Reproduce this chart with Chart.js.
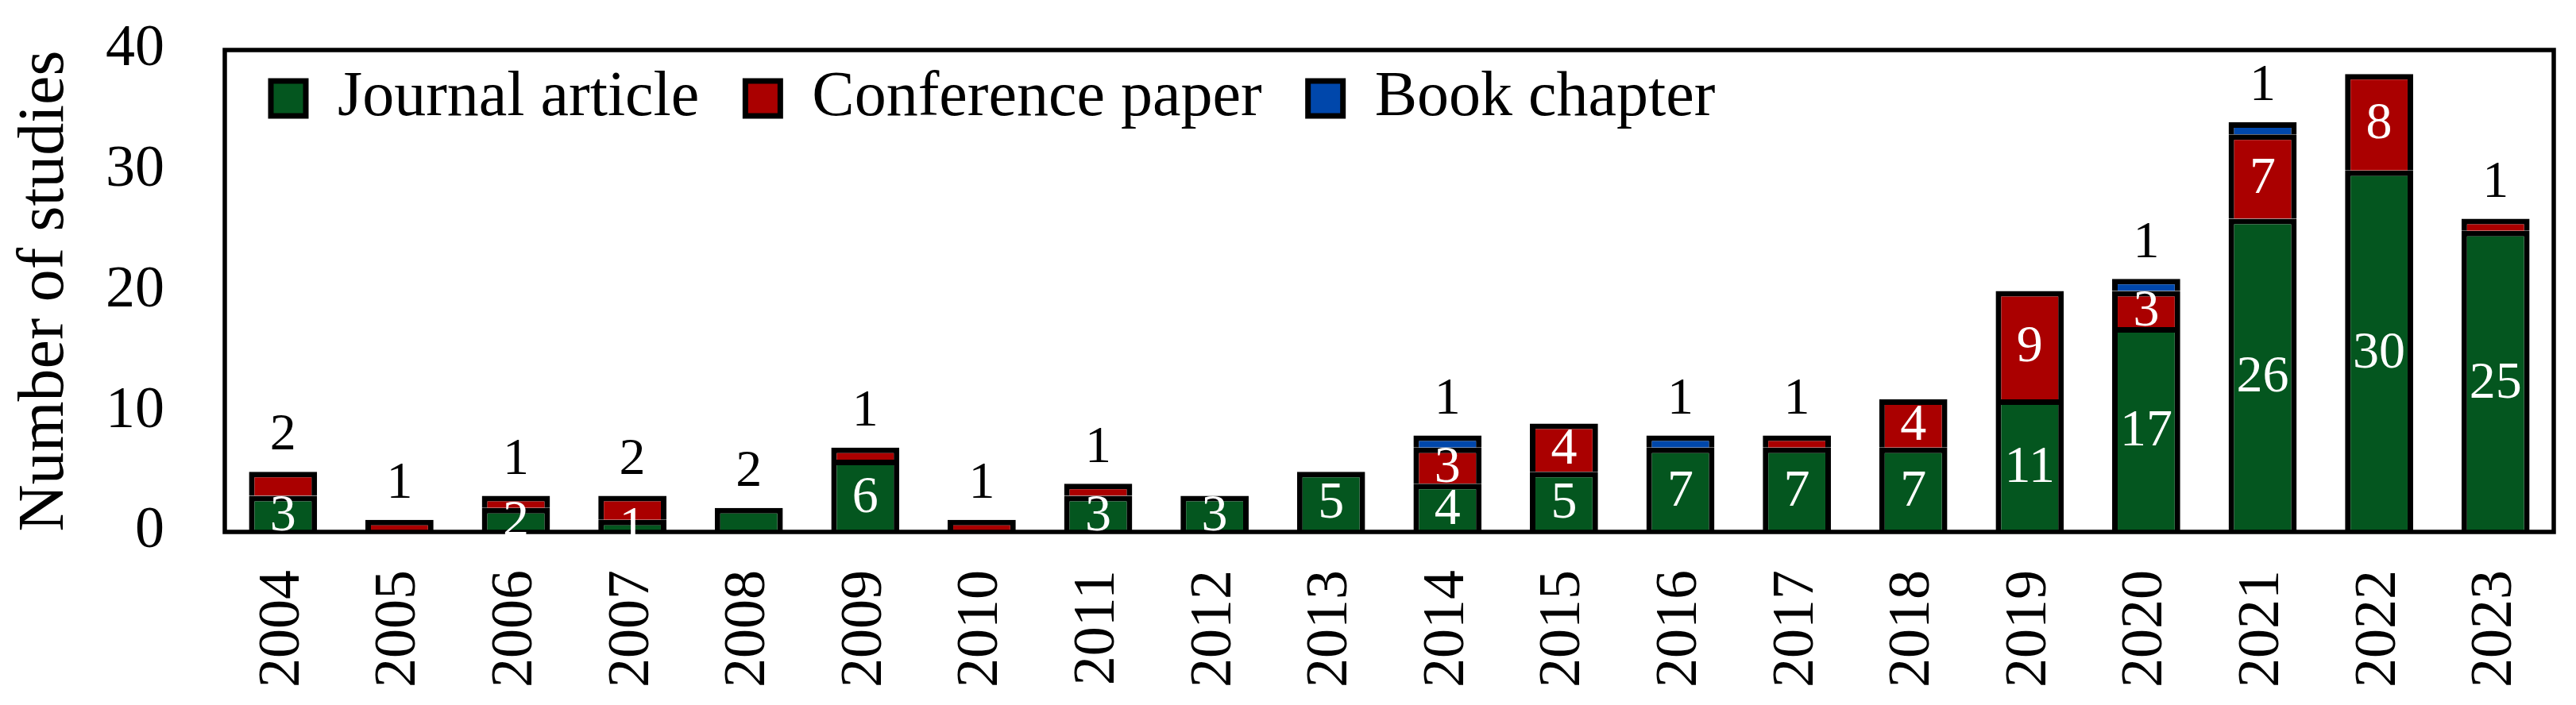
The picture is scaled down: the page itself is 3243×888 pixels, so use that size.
<!DOCTYPE html>
<html>
<head>
<meta charset="utf-8">
<script src="https://cdn.jsdelivr.net/npm/chart.js@4.4.1/dist/chart.umd.min.js"></script>
<style>
  html, body { margin: 0; padding: 0; background: #fff; }
  #wrap { width: 3243px; height: 888px; }
</style>
</head>
<body>
<div id="wrap"><canvas id="chart" width="3243" height="888"></canvas></div>
<script>
const years = ["2004", "2005", "2006", "2007", "2008", "2009", "2010", "2011", "2012", "2013",
  "2014", "2015", "2016", "2017", "2018", "2019", "2020", "2021", "2022", "2023"];
const journal = [3, 0, 2, 1, 2, 6, 0, 3, 3, 5, 4, 5, 7, 7, 7, 11, 17, 26, 30, 25];
const conference = [2, 1, 1, 2, 0, 1, 1, 1, 0, 0, 3, 4, 0, 1, 4, 9, 3, 7, 8, 1];
const bookChapter = [0, 0, 0, 0, 0, 0, 0, 0, 0, 0, 1, 0, 1, 0, 0, 0, 1, 1, 0, 0];
const yTicks = [0, 10, 20, 30, 40];

const FONT = "'Liberation Serif', 'Times New Roman', serif";

Chart.defaults.color = "#000";
Chart.defaults.font.family = FONT;

function noPad(s) {
  s.paddingLeft = 0;
  s.paddingRight = 0;
  s.paddingTop = 0;
  s.paddingBottom = 0;
}

// frame round the plot area, then the value labels
const framePlugin = {
  id: "frame",
  afterInit(chart) {
    // legend takes no room: it is drawn inside the plot
    const lg = chart.legend;
    const fit = lg.fit;
    lg.fit = function () { fit.call(this); this.height = 0; };
  },
  afterLayout(chart) {
    const lg = chart.legend;
    lg.left = chart.chartArea.left;
    lg.right = chart.chartArea.right;
    lg.top = 26;
    lg.bottom = lg.top + 200;
  },
  afterDatasetsDraw(chart) {
    const ctx = chart.ctx;
    const a = chart.chartArea;
    ctx.save();
    ctx.strokeStyle = "#000";
    ctx.lineWidth = 5.5;
    ctx.strokeRect(a.left, a.top, a.right - a.left, a.bottom - a.top);

    ctx.font = "66px " + FONT;
    ctx.textAlign = "center";
    ctx.textBaseline = "middle";
    const sets = chart.data.datasets;
    sets.forEach((ds, i) => {
      const meta = chart.getDatasetMeta(i);
      meta.data.forEach((bar, j) => {
        const v = ds.data[j];
        if (!v) return;
        let top = -1;
        sets.forEach((d, k) => { if (d.data[j] > 0) top = k; });
        if (i === top && v <= 2) {
          ctx.fillStyle = "#000";
          ctx.fillText(String(v), bar.x, bar.y - 45);
        } else {
          ctx.fillStyle = "#fff";
          ctx.fillText(String(v), bar.x, (bar.y + bar.base) / 2 + 3);
        }
      });
    });
    ctx.restore();
  }
};

new Chart(document.getElementById("chart"), {
  type: "bar",
  data: {
    labels: years,
    datasets: [
      { label: "Journal article", data: journal, backgroundColor: "#04561f" },
      { label: "Conference paper", data: conference, backgroundColor: "#aa0000" },
      { label: "Book chapter", data: bookChapter, backgroundColor: "#0047ab" }
    ]
  },
  options: {
    responsive: false,
    animation: false,
    devicePixelRatio: 1,
    layout: { padding: { left: 0, right: 28, top: 63, bottom: 0 } },
    datasets: {
      bar: {
        borderColor: "#000",
        borderWidth: 7,
        categoryPercentage: 1,
        barPercentage: 0.585
      }
    },
    plugins: {
      legend: {
        position: "top",
        align: "start",
        labels: {
          font: { size: 80, family: FONT },
          color: "#000",
          boxWidth: 44,
          boxHeight: 44,
          padding: 58
        }
      },
      tooltip: { enabled: false }
    },
    scales: {
      x: {
        stacked: true,
        grid: { display: false, drawTicks: false },
        border: { display: false },
        ticks: {
          autoSkip: false,
          minRotation: 90,
          maxRotation: 90,
          padding: 48,
          font: { size: 74, family: FONT },
          color: "#000"
        },
        afterFit: s => { s.height = 218; noPad(s); }
      },
      y: {
        stacked: true,
        min: 0,
        max: 40,
        grid: { display: false, drawTicks: false },
        border: { display: false },
        afterBuildTicks: s => { s.ticks = yTicks.map(v => ({ value: v })); },
        ticks: {
          padding: 76,
          font: { size: 74, family: FONT },
          color: "#000"
        },
        title: {
          display: true,
          text: "Number of studies",
          font: { size: 82, family: FONT },
          color: "#000",
          padding: { top: 8, bottom: 0 }
        },
        afterFit: s => { s.width = 283; noPad(s); }
      }
    }
  },
  plugins: [framePlugin]
});
</script>
</body>
</html>
